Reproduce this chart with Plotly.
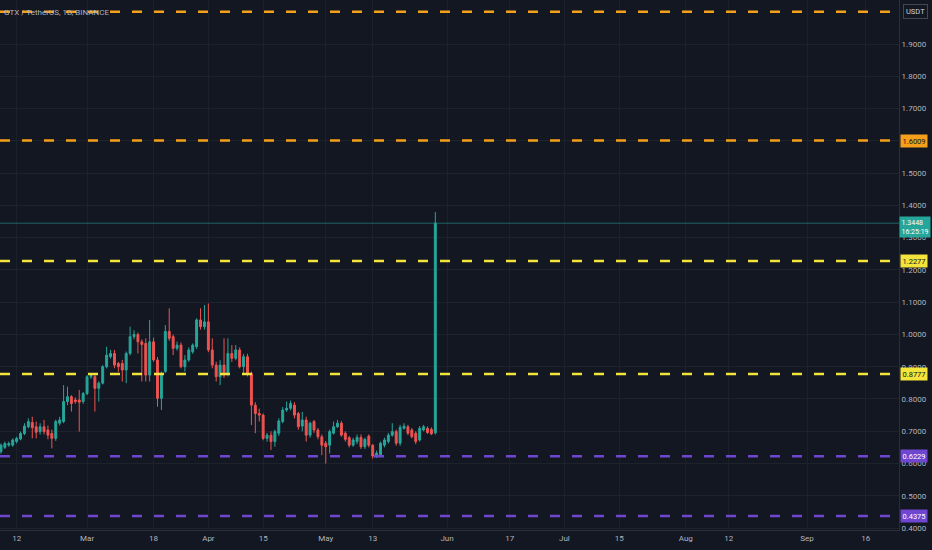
import pandas as pd
import plotly.graph_objects as go

# daily candles GTX/USDT (Feb 8 -> May 29 2024)
opens = [.637, .650, .657, .657, .668, .676, .693, .714, .727, .714,
         .699, .714, .704, .693, .678, .725, .730, .792, .807, .797,
         .797, .792, .817, .869, .869, .833, .849, .900, .931, .941,
         .910, .910, .890, .941, .993, 1.000, .977, .972, .874, .977,
         .921, .802, .885, 1.009, .993, .957, .967, .900, .921, .946,
         .962, 1.045, 1.024, 1.039, .952, .905, .869, .905, .879, .941,
         .926, .952, .900, .931, .879, .781, .755, .750, .678, .688,
         .668, .694, .730, .766, .771, .781, .755, .716, .735, .688,
         .730, .704, .683, .663, .657, .694, .714, .725, .694, .680,
         .657, .668, .681, .652, .685, .657, .623, .627, .657, .668,
         .688, .699, .663, .709, .714, .704, .694, .673, .704, .709,
         .706, .695]
highs = [.662, .668, .668, .678, .683, .699, .725, .740, .745, .730,
         .725, .735, .718, .705, .736, .745, .843, .838, .812, .805,
         .828, .822, .874, .880, .880, .855, .905, .962, .952, .952,
         .915, .921, .947, 1.024, 1.013, 1.006, .985, .988, 1.045, .990,
         .930, .885, 1.029, 1.081, 1.000, .978, .975, .936, .960, .972,
         1.050, 1.081, 1.091, 1.096, .988, .915, .920, .988, .988, .967,
         .967, .960, .940, .940, .885, .790, .770, .755, .695, .700,
         .705, .740, .775, .792, .795, .790, .760, .760, .745, .730,
         .735, .710, .690, .670, .705, .730, .735, .732, .700, .685,
         .680, .690, .690, .680, .690, .660, .640, .668, .680, .695,
         .725, .705, .720, .725, .720, .710, .700, .716, .720, .715,
         .712, 1.379]
lows = [.630, .645, .652, .652, .662, .672, .688, .709, .678, .678,
        .690, .690, .675, .647, .670, .718, .725, .781, .761, .785,
        .699, .785, .812, .862, .761, .792, .845, .895, .925, .895,
        .884, .854, .849, .935, .985, .941, .854, .854, .854, .915,
        .776, .766, .880, .980, .936, .950, .895, .885, .915, .940,
        .955, 1.015, 1.015, .945, .895, .854, .843, .865, .870, .915,
        .920, .895, .879, .870, .719, .694, .730, .672, .668, .642,
        .652, .685, .725, .760, .765, .740, .705, .700, .668, .680,
        .695, .675, .626, .600, .631, .690, .710, .683, .668, .650,
        .652, .660, .645, .645, .650, .615, .617, .620, .650, .662,
        .683, .655, .655, .705, .688, .678, .660, .668, .700, .692,
        .688, .690]
closes = [.657, .662, .662, .673, .678, .693, .716, .730, .711, .697,
          .714, .699, .688, .678, .730, .735, .792, .807, .786, .792,
          .790, .817, .869, .874, .833, .849, .900, .936, .941, .905,
          .900, .890, .941, .993, 1.000, .977, .969, .874, .977, .921,
          .802, .880, 1.009, .988, .957, .967, .900, .921, .952, .967,
          1.045, 1.024, 1.039, .952, .905, .869, .905, .874, .941, .926,
          .952, .900, .931, .879, .781, .755, .750, .678, .688, .668,
          .699, .732, .766, .771, .786, .750, .714, .735, .688, .725,
          .704, .683, .657, .652, .699, .714, .725, .688, .675, .657,
          .673, .681, .652, .675, .657, .623, .632, .663, .673, .688,
          .699, .663, .712, .716, .694, .683, .668, .709, .714, .696,
          .692, 1.3448]
dates = pd.date_range("2024-02-08", periods=len(opens), freq="D")

# horizontal levels drawn on the chart
levels = [2.0, 1.6009, 1.2277, 0.8777, 0.6229, 0.4375]
level_colors = ["#f59f1b", "#f59f1b", "#f2e43a", "#f2e43a", "#6f46d0", "#6f46d0"]
level_labels = [None, "1.6009", "1.2277", "0.8777", "0.6229", "0.4375"]
label_text_colors = ["#131722", "#131722", "#131722", "#131722", "#ffffff", "#ffffff"]
last_price = 1.3448
countdown = "16:25:19"

ytick_vals = [0.4, 0.5, 0.6, 0.7, 0.8, 0.9, 1.0, 1.1, 1.2, 1.3, 1.4, 1.5, 1.6, 1.7, 1.8, 1.9]
xtick_vals = ["2024-02-12", "2024-03-01", "2024-03-18", "2024-04-01", "2024-04-15", "2024-05-01",
              "2024-05-13", "2024-06-01", "2024-06-17", "2024-07-01", "2024-07-15", "2024-08-01",
              "2024-08-12", "2024-09-01", "2024-09-16"]
xtick_text = ["12", "Mar", "18", "Apr", "15", "May", "13", "Jun", "17", "Jul", "15", "Aug", "12", "Sep", "16"]

bg = "#131722"
txt = "#b2b5be"

fig = go.Figure(go.Candlestick(
    x=dates, open=opens, high=highs, low=lows, close=closes,
    increasing=dict(line=dict(color="#26a69a", width=1), fillcolor="#26a69a"),
    decreasing=dict(line=dict(color="#ef5350", width=1), fillcolor="#ef5350"),
    whiskerwidth=0, hoverinfo="skip", showlegend=False))

# last price line
fig.add_shape(type="line", xref="paper", x0=0, x1=1, yref="y", y0=last_price, y1=last_price,
              line=dict(color="rgba(38,166,154,0.55)", width=1))

for lv, col, lab, tc in zip(levels, level_colors, level_labels, label_text_colors):
    fig.add_shape(type="line", xref="paper", x0=0, x1=1, yref="y", y0=lv, y1=lv,
                  line=dict(color=col, width=2.5, dash="10px,12px"))
    if lab:
        fig.add_annotation(xref="paper", x=1, xanchor="left", xshift=1, yref="y", y=lv,
                           text=lab, showarrow=False, bgcolor=col, borderpad=1.5,
                           font=dict(size=7.5, color=tc, family="Roboto"))

fig.add_annotation(xref="paper", x=1, xanchor="left", xshift=0, yref="y", y=last_price, yanchor="top",
                   yshift=7, text=f"{last_price:.4f}<br>{countdown}", showarrow=False, bgcolor="#26a69a",
                   borderpad=1.5, align="left", font=dict(size=7, color="#ffffff", family="Roboto"))

fig.add_annotation(xref="paper", x=1, xanchor="left", xshift=4, yref="paper", y=1, yanchor="top", yshift=-4,
                   text="USDT", showarrow=False, bordercolor="#434651", borderwidth=1, borderpad=2,
                   font=dict(size=7.5, color="#d1d4dc", family="Roboto"))

fig.add_annotation(xref="paper", x=0, xanchor="left", xshift=2, yref="paper", y=1, yanchor="top", yshift=-6,
                   text="GTX / TetherUS, 1D, BINANCE", showarrow=False,
                   font=dict(size=8, color=txt, family="Roboto"))

fig.update_layout(
    width=932, height=550,
    paper_bgcolor=bg, plot_bgcolor=bg,
    margin=dict(l=0, r=33, t=0, b=20),
    font=dict(family="Roboto", size=8, color=txt),
    xaxis=dict(type="date", range=["2024-02-07 18:00", "2024-09-24 12:00"], rangeslider=dict(visible=False),
               tickvals=xtick_vals, ticktext=xtick_text, showgrid=True, gridcolor="#1c202b",
               showline=True, linecolor="#2a2e39", zeroline=False, ticks="", automargin=False),
    yaxis=dict(side="right", range=[0.394, 2.0364], tickvals=ytick_vals, tickformat=".4f",
               showgrid=True, gridcolor="#1e222d", showline=True, linecolor="#2a2e39", zeroline=False,
               ticks="", automargin=False),
)

fig.write_html("out.html", config={"displayModeBar": False},
               post_script="document.body.style.margin='0px';document.body.style.background='#131722';")
